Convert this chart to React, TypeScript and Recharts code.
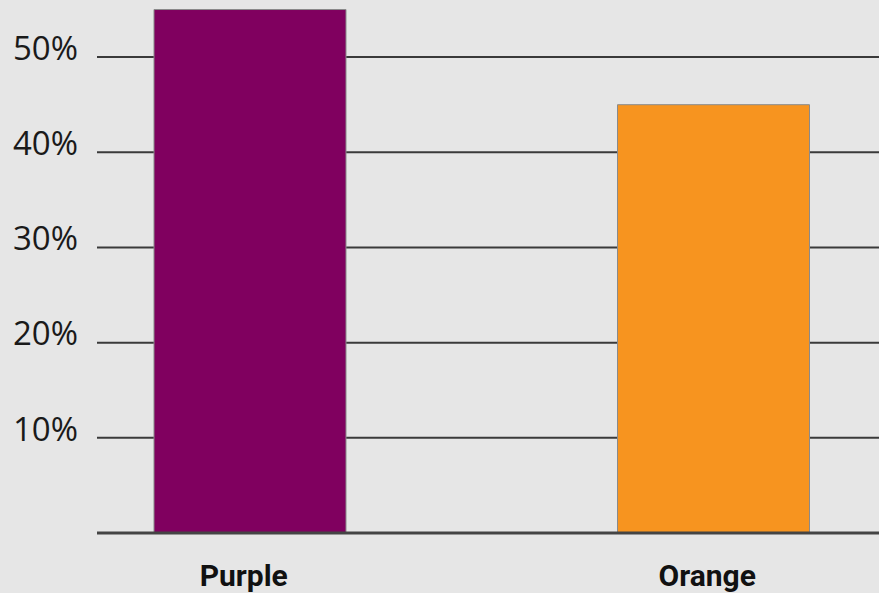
import { BarChart, Bar, XAxis, YAxis, CartesianGrid, Cell } from 'recharts'

const categories = ['Purple', 'Orange']
const shares = [55, 45]
const yTicks = [10, 20, 30, 40, 50]

const COLORS = ['#80005f', '#f7941f']

const data = categories.map((name, i) => ({ name, share: shares[i] }))

export default function App() {
  return (
    <div
      style={{
        position: 'absolute',
        left: 0,
        top: 0,
        width: 879,
        height: 593,
        background: '#e6e6e6',
        overflow: 'hidden',
      }}
    >
      <BarChart
        width={879}
        height={593}
        data={data}
        margin={{ top: 0, right: 0, bottom: 0, left: 0 }}
      >
        <CartesianGrid
          vertical={false}
          horizontalValues={yTicks}
          stroke="#3a3a3a"
          strokeWidth={2}
        />
        <XAxis
          dataKey="name"
          height={60}
          padding={{ left: -79, right: -66 }}
          tickLine={false}
          tickMargin={26}
          axisLine={{ stroke: '#444', strokeWidth: 3 }}
          tick={{
            fill: '#111',
            fontSize: 30,
            fontWeight: 700,
            fontFamily: 'Roboto',
            dx: -6,
          }}
        />
        <YAxis
          width={97}
          domain={[0, 56]}
          ticks={yTicks}
          tickFormatter={(v) => `${v}%`}
          tickLine={false}
          axisLine={false}
          tickMargin={13}
          tick={{
            fill: '#1a1a1a',
            fontSize: 33,
            fontWeight: 400,
            fontFamily: 'Open Sans',
            dy: -9,
          }}
        />
        <Bar
          dataKey="share"
          barSize={192}
          stroke="#8a8a8a"
          strokeWidth={1}
          isAnimationActive={false}
        >
          {data.map((d, i) => (
            <Cell key={d.name} fill={COLORS[i]} />
          ))}
        </Bar>
      </BarChart>
    </div>
  )
}
